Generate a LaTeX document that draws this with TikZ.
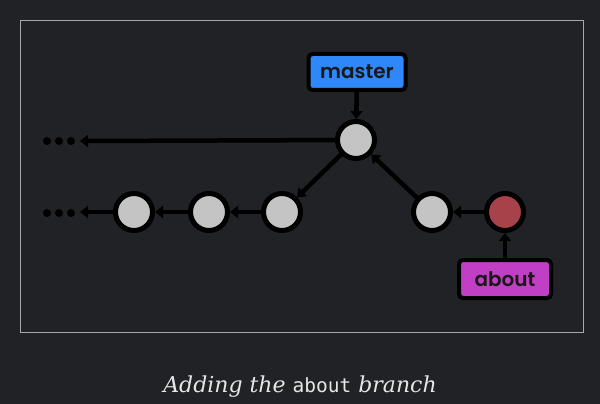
\documentclass[tikz,border=0pt]{standalone}
\usepackage{fontspec}
\setmainfont{DejaVu Serif}
\setmonofont{DejaVu Sans Mono}
\newfontfamily\labelfont{Poppins SemiBold}
\usetikzlibrary{arrows.meta}
\definecolor{bgdark}{HTML}{212226}
\definecolor{framegray}{HTML}{A8A8A8}
\definecolor{commitgray}{HTML}{C4C4C4}
\definecolor{commitred}{HTML}{A8424A}
\definecolor{masterblue}{HTML}{2E88FA}
\definecolor{aboutpink}{HTML}{C03FC4}
\definecolor{captiontext}{HTML}{E6E6E6}
\tikzset{
  commit/.style={circle,draw=black,line width=5pt,fill=commitgray,minimum size=37pt,inner sep=0pt},
  branch/.style={rectangle,rounded corners=4pt,draw=black,line width=4pt,inner sep=0pt,
    font=\labelfont\fontsize{20}{20}\selectfont,text=black!90},
  link/.style={line width=4.5pt,-{Triangle[length=8pt,width=12pt]}},
  tick/.style={fill=black}
}
\begin{document}
\begin{tikzpicture}[x=1pt,y=-1pt]
  \fill[bgdark] (0,0) rectangle (600,404);
  \useasboundingbox (0,0) rectangle (600,404);
  \draw[framegray,line width=0.8pt] (20.5,20.5) rectangle (583.5,332.5);

  \node[commit] (m) at (356,140) {};
  \node[commit] (c1) at (134,212) {};
  \node[commit] (c2) at (209,212) {};
  \node[commit] (c3) at (282,212) {};
  \node[commit] (a1) at (432,212) {};
  \node[commit,fill=commitred] (a2) at (505,212) {};

  \node[branch,fill=masterblue,minimum width=97pt,minimum height=36pt] (master) at (357,72) {master};
  \node[branch,fill=aboutpink,minimum width=92pt,minimum height=38pt] (about) at (505,279) {about};

  \foreach \x in {47,59,71} {
    \fill[tick] (\x,141) circle (4);
    \fill[tick] (\x,213) circle (4);
  }
  \coordinate (top) at (80,141);
  \coordinate (bot) at (80,212);

  \draw[link] (m) -- (top);
  \draw[link] (c1) -- (bot);
  \draw[link] (c2) -- (c1);
  \draw[link] (c3) -- (c2);
  \draw[link] (m) -- (c3);
  \draw[link] (a1) -- (m);
  \draw[link] (a2) -- (a1);
  \draw[link] (master) -- (m);
  \draw[link] (about) -- (a2);

  \node[text=captiontext,font=\fontsize{22}{22}\selectfont\itshape] (caption) at (300,387)
    {Adding the {\upshape\ttfamily\fontsize{19.5}{19.5}\selectfont about} branch};
\end{tikzpicture}
\end{document}
